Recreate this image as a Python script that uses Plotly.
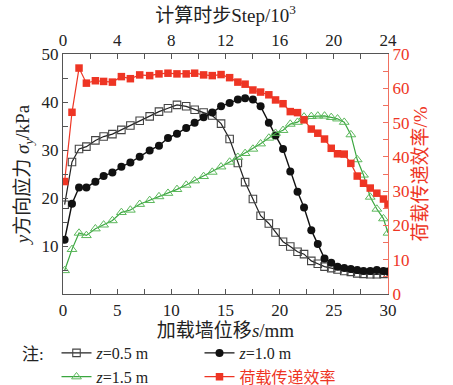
import plotly.graph_objects as go

# displacement of loading wall s (mm)
s_mm = [0.15, 0.83, 1.48, 2.16, 2.99, 3.75, 4.56, 5.39, 6.22, 7.08,
        8.00, 8.86, 9.69, 10.52, 11.37, 12.15, 12.98, 13.78, 14.59, 15.38,
        16.14, 16.81, 17.53, 18.24, 19.00, 19.62, 20.31, 20.98, 21.65, 22.25,
        22.92, 23.52, 24.14, 24.76, 25.34, 25.96, 26.57, 27.16, 27.74, 28.36,
        28.97, 29.58, 30.0]

# vertical stress sigma_y (kPa)
z05 = [18.6, 27.5, 30.2, 30.7, 32.0, 32.8, 33.3, 34.2, 35.1, 36.1,
       37.0, 38.0, 38.7, 39.4, 39.1, 38.4, 37.8, 37.2, 35.5, 32.3,
       27.3, 23.3, 19.8, 16.3, 14.7, 12.8, 10.9, 9.9, 8.8, 8.3,
       6.9, 6.3, 5.7, 5.4, 5.1, 4.8, 4.6, 4.3, 4.2, 4.1,
       4.1, 4.2, 4.4]
z10 = [11.3, 18.8, 22.2, 22.2, 23.4, 24.6, 25.3, 26.5, 27.4, 28.6,
       29.9, 30.9, 32.5, 33.4, 34.6, 35.7, 36.8, 37.8, 39.1, 39.8,
       40.5, 40.8, 40.5, 39.1, 35.7, 33.0, 30.2, 25.5, 21.3, 18.0,
       13.3, 10.4, 7.4, 6.5, 5.7, 5.4, 5.2, 5.0, 4.8, 4.8,
       5.0, 4.8, 4.7]
z15 = [4.9, 9.3, 12.7, 12.2, 13.6, 14.4, 15.3, 17.0, 17.5, 18.7,
       19.5, 20.3, 21.0, 21.8, 22.7, 23.6, 24.5, 25.4, 26.5, 27.5,
       28.5, 29.3, 30.2, 31.3, 32.5, 33.5, 34.1, 35.4, 35.8, 36.9,
       37.0, 37.1, 37.1, 36.8, 36.5, 35.8, 33.2, 28.0, 24.8, 20.2,
       17.7, 15.7, 12.7]

# load transfer efficiency (%)
eff = [32.8, 53.0, 65.9, 61.5, 62.2, 62.0, 61.8, 63.4, 62.8, 63.9,
       63.7, 64.2, 64.4, 64.2, 64.2, 64.4, 63.9, 63.7, 64.0, 63.1,
       61.8, 61.2, 59.5, 58.9, 58.1, 56.6, 55.5, 53.2, 52.9, 50.8,
       48.1, 46.9, 45.2, 42.5, 40.9, 40.8, 38.1, 34.4, 32.3, 30.9,
       29.4, 27.7, 26.2]

x_ticks = [0, 5, 10, 15, 20, 25, 30]
x_minor = [2.5, 7.5, 12.5, 17.5, 22.5, 27.5]
top_ticks = [0, 4, 8, 12, 16, 20, 24]
top_minor = [2, 6, 10, 14, 18, 22]
y_ticks = [10, 20, 30, 40, 50]
y_minor = [5, 15, 25, 35, 45]
y2_ticks = [0, 10, 20, 30, 40, 50, 60, 70]
y2_minor = [5, 15, 25, 35, 45, 55, 65]

FONT = "Liberation Serif, 'Noto Sans CJK SC', serif"
RED = "#ee3524"
GREEN = "#3aa63f"
AX = "#555555"

fig = go.Figure()
fig.add_trace(go.Scatter(
    x=s_mm, y=z05, name="<i>z</i>=0.5 m", mode="lines+markers",
    line=dict(color="#222222", width=1.2),
    marker=dict(symbol="square-open", size=7.5, color="#444444", line=dict(width=1.1))))
fig.add_trace(go.Scatter(
    x=s_mm, y=z10, name="<i>z</i>=1.0 m", mode="lines+markers",
    line=dict(color="#111111", width=1.4),
    marker=dict(symbol="circle", size=8, color="#111111")))
fig.add_trace(go.Scatter(
    x=s_mm, y=z15, name="<i>z</i>=1.5 m", mode="lines+markers",
    line=dict(color=GREEN, width=1.2),
    marker=dict(symbol="triangle-up-open", size=8.5, color="#5cb85c", line=dict(width=1))))
fig.add_trace(go.Scatter(
    x=s_mm, y=eff, name='<span style="color:%s">荷载传递效率</span>' % RED,
    mode="lines+markers", yaxis="y2",
    line=dict(color=RED, width=1.2),
    marker=dict(symbol="square", size=7.5, color=RED)))

fig.update_layout(
    width=453, height=385,
    margin=dict(l=63, r=65, t=54, b=91, autoexpand=False),
    paper_bgcolor="white", plot_bgcolor="white",
    font=dict(family=FONT, size=17, color="#222222"),
    showlegend=True,
    legend=dict(orientation="h", x=-0.02, xanchor="left", y=-0.175, yanchor="top",
                entrywidth=98, entrywidthmode="pixels", itemwidth=30,
                font=dict(family=FONT, size=16, color="#222222"),
                tracegroupgap=0, bgcolor="rgba(0,0,0,0)"),
    xaxis=dict(range=[0, 30], tickmode="array", tickvals=x_ticks,
               ticks="inside", ticklen=5, tickcolor=AX, showline=True, linecolor=AX, linewidth=1.3,
               showgrid=False, zeroline=False, automargin=False,
               minor=dict(tickmode="array", tickvals=x_minor, ticks="inside", ticklen=5, tickcolor=AX),
               tickfont=dict(size=17),
               title=dict(text="加载墙位移<i>s</i>/mm", font=dict(size=19), standoff=5)),
    xaxis2=dict(range=[0, 24], overlaying="x", side="top", anchor="y", tickmode="array",
                tickvals=top_ticks, ticks="inside", ticklen=5, tickcolor=AX,
                showline=True, linecolor=AX, linewidth=1.3, showgrid=False, zeroline=False,
                automargin=False,
                minor=dict(tickmode="array", tickvals=top_minor, ticks="inside", ticklen=5, tickcolor=AX),
                tickfont=dict(size=17),
                title=dict(text="计算时步Step/10<sup>3</sup>", font=dict(size=19), standoff=3)),
    yaxis=dict(range=[0, 50], tickmode="array", tickvals=y_ticks,
               ticks="inside", ticklen=5, tickcolor=AX, showline=True, linecolor=AX, linewidth=1.3,
               showgrid=False, zeroline=False, automargin=False,
               minor=dict(tickmode="array", tickvals=y_minor, ticks="inside", ticklen=5, tickcolor=AX),
               tickfont=dict(size=17),
               title=dict(text="<i>y</i>方向应力 <i>σ</i><sub><i>y</i></sub>/kPa",
                          font=dict(size=19), standoff=6)),
    yaxis2=dict(range=[0, 70], overlaying="y", side="right", anchor="x", tickmode="array",
                tickvals=y2_ticks, ticks="inside", ticklen=5, tickcolor="#f07060",
                showline=True, linecolor="#f07060", linewidth=1.3, showgrid=False, zeroline=False,
                automargin=False,
                minor=dict(tickmode="array", tickvals=y2_minor, ticks="inside", ticklen=5, tickcolor="#f07060"),
                tickfont=dict(size=17, color=RED),
                title=dict(text="荷载传递效率/%", font=dict(size=19, color=RED), standoff=5)),
    annotations=[dict(text="注:", x=-0.093, y=-0.25, xref="paper", yref="paper",
                      xanchor="center", yanchor="middle", showarrow=False,
                      font=dict(family=FONT, size=17, color="#222222"))],
)

# dummy to activate top axis
fig.add_trace(go.Scatter(x=[None], y=[None], xaxis="x2", yaxis="y", showlegend=False, hoverinfo="skip"))

fig.write_html("out.html", config={"displayModeBar": False},
               post_script="document.body.style.margin='0';document.body.style.overflow='hidden';")
